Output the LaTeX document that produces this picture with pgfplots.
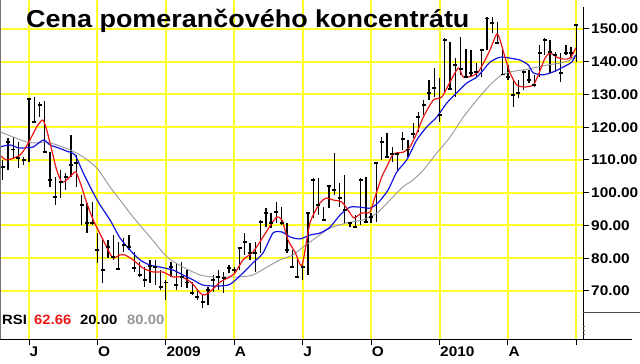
\documentclass[border=0pt]{standalone}
\usepackage{fontspec}
\setmainfont{Liberation Sans}[FakeStretch=1.1]
\usepackage{pgfplots}
\usepackage{pgfplotstable}
\pgfplotsset{compat=1.18}
\definecolor{gridyellow}{RGB}{255,255,40}
\definecolor{mared}{RGB}{235,20,20}
\definecolor{mablue}{RGB}{20,20,225}
\definecolor{magray}{RGB}{150,150,150}
\newcommand\tickfont{\fontsize{14bp}{16bp}\selectfont\bfseries}

\pgfplotstableread{
w H L C
-5 110.0 103.9 107.9
-4 116.7 106.9 115.5
-3 117.0 110.6 113.1
-2 115.5 107.6 110.6
-1 110.9 108.5 110.0
0 128.9 109.4 128.6
1 129.2 121.6 121.6
2 127.7 123.1 126.8
3 128.0 112.4 112.4
4 112.4 101.8 103.9
5 104.8 96.3 98.7
6 106.9 98.4 103.3
7 106.0 100.8 104.8
8 117.6 104.8 108.5
9 111.5 101.8 109.1
10 99.3 90.2 96.3
11 96.9 87.7 90.8
12 97.2 90.2 90.8
13 87.7 78.6 82.5
14 85.6 72.4 76.4
15 85.6 80.1 83.4
16 87.1 79.5 80.4
17 85.0 76.4 76.7
18 86.2 81.9 84.0
19 87.1 82.5 83.4
20 81.9 75.8 77.0
21 78.9 74.3 74.9
22 77.3 71.2 73.4
23 79.5 72.4 77.6
24 79.5 71.8 77.3
25 76.4 70.3 71.2
26 73.4 67.3 72.7
27 78.9 74.3 77.3
28 78.6 70.3 71.8
29 78.9 71.2 74.3
30 76.4 70.9 72.7
31 72.7 68.8 69.4
32 70.3 67.3 68.2
33 68.8 64.8 66.6
34 71.2 65.7 70.3
35 74.9 69.7 73.4
36 76.4 70.3 74.3
37 75.8 69.4 74.0
38 77.9 75.5 77.0
39 77.3 75.5 76.4
40 83.4 76.4 83.1
41 87.7 81.0 85.0
42 84.7 79.5 81.6
43 85.0 75.8 81.6
44 91.7 81.6 91.1
45 95.3 89.5 93.8
46 93.8 89.2 90.8
47 97.2 90.8 94.1
48 95.6 90.2 90.8
49 90.8 81.6 82.5
50 82.5 77.0 77.3
51 80.4 74.0 74.3
52 78.9 73.4 77.3
53 94.1 74.9 93.8
54 104.5 92.3 103.9
55 104.5 93.2 96.3
56 95.6 91.7 91.7
57 102.4 95.3 102.1
58 112.1 99.3 100.8
59 103.0 95.6 98.4
60 105.4 90.8 94.7
61 91.1 89.5 90.8
62 93.2 89.2 89.5
63 104.5 90.2 103.9
64 104.8 90.8 91.1
65 93.8 90.8 92.6
66 109.1 91.1 109.1
67 117.0 110.0 115.5
68 118.2 110.6 110.9
69 114.0 109.4 111.8
70 112.4 106.9 111.8
71 118.6 113.1 116.4
72 116.1 110.9 113.1
73 121.3 116.7 117.9
74 124.7 118.6 123.1
75 128.3 123.7 126.8
76 134.4 128.3 130.5
77 138.1 129.2 132.0
78 135.0 121.6 123.7
79 147.3 130.5 146.6
80 146.0 131.4 131.7
81 141.1 129.2 139.0
82 147.6 136.0 137.8
83 143.9 135.3 135.3
84 143.6 135.3 136.6
85 139.6 135.3 136.9
86 143.9 135.3 143.6
87 153.7 143.6 153.1
88 153.7 148.8 151.8
89 152.1 145.7 145.7
90 144.5 136.0 136.0
91 139.0 134.4 135.3
92 134.4 126.2 129.8
93 134.4 128.9 130.5
94 137.5 131.4 136.9
95 137.5 133.5 134.4
96 136.0 132.3 132.9
97 145.1 135.3 142.7
98 147.3 142.1 146.6
99 146.6 136.6 143.0
100 143.0 136.9 142.1
101 142.7 133.8 136.6
102 145.1 142.1 142.7
103 144.5 141.1 142.7
104 151.2 139.9 151.2
}\bars

\pgfplotstableread{
w p
-5.51 111.5
-4.24 110.0
-1.71 111.5
-0.13 115.2
1.46 120.1
2.60 122.2
3.36 119.2
4.31 113.1
5.26 106.9
6.21 103.3
7.16 103.9
8.11 105.4
8.93 106.3
10.0 101.8
10.96 96.9
12.2 91.7
12.86 89.5
14.76 83.4
15.96 80.1
17.29 81.0
18.24 81.0
19.76 79.5
21.66 77.0
23.56 75.8
25.46 75.8
27.36 74.3
29.07 74.3
30.97 72.4
32.49 69.4
33.44 68.8
34.77 70.3
36.29 72.7
37.81 74.0
39.14 75.5
40.66 79.5
42.56 81.9
44.46 86.5
46.17 90.8
47.12 92.6
48.07 91.7
49.21 85.6
50.54 81.9
51.87 77.9
53.39 90.8
55.29 96.9
56.56 98.4
57.76 97.8
59.41 97.2
60.61 94.7
61.75 92.3
63.21 93.8
64.79 94.1
65.74 98.7
67.01 104.8
67.97 107.9
69.22 111.8
71.12 112.4
72.39 114.0
73.67 118.2
74.92 123.1
76.82 128.3
78.42 129.2
80.0 133.8
81.57 138.1
82.52 135.3
84.12 135.6
85.37 136.9
86.64 140.5
87.59 143.6
88.87 148.5
89.49 146.6
90.44 141.4
91.39 136.6
92.67 132.9
94.24 132.3
95.82 132.9
96.77 136.0
98.04 141.1
99.0 142.7
100.27 141.4
101.52 140.8
102.80 141.1
103.88 144.2
}\redma

\pgfplotstableread{
w p
-5.51 114.0
-3.61 114.6
-2.03 113.7
-0.76 113.7
0.82 114.0
2.72 116.1
3.99 114.6
5.57 113.7
7.16 112.7
8.74 111.5
10.32 106.0
12.22 99.9
13.49 96.3
15.39 91.7
17.29 86.2
19.19 82.5
21.09 79.5
22.99 77.9
24.89 77.3
27.36 76.4
29.26 74.9
31.16 73.4
33.06 71.8
35.72 71.5
37.81 71.8
38.76 72.7
40.66 75.5
42.56 78.6
44.46 81.6
46.36 87.7
48.07 88.0
49.59 86.5
51.49 85.9
53.39 87.1
55.29 87.7
57.19 89.5
59.09 93.2
60.99 95.6
62.89 95.6
64.79 95.3
66.31 96.9
68.21 100.8
69.86 106.3
71.76 110.0
73.67 116.1
75.57 120.1
77.47 123.1
79.37 127.4
81.27 130.5
83.17 133.5
85.07 135.3
86.64 138.1
87.59 139.9
89.49 141.4
91.39 141.1
93.29 140.5
94.87 139.0
95.82 136.6
97.72 136.0
99.62 136.9
101.52 138.4
103.12 139.9
103.88 142.1
}\bluema

\pgfplotstableread{
w p
-5.51 118.6
-2.98 117.0
-0.44 115.5
1.46 115.2
3.36 115.5
5.26 114.6
7.79 113.1
10.32 110.9
12.86 107.6
15.39 101.8
17.29 97.8
19.76 92.6
22.99 86.5
26.22 80.4
29.26 77.3
32.49 74.9
34.96 74.3
37.62 74.3
40.09 74.3
42.56 74.9
45.22 77.3
47.69 79.5
50.16 81.0
52.06 83.4
54.72 86.5
57.19 89.2
60.42 90.8
63.46 91.7
66.12 93.8
68.59 97.8
71.06 101.8
72.96 103.9
74.92 106.9
77.47 112.1
80.0 117.0
82.52 123.1
85.07 128.3
87.59 132.9
89.49 135.6
91.39 136.9
93.92 137.5
95.82 138.1
98.36 139.0
100.89 139.6
102.80 140.5
103.88 142.1
}\grayma

\begin{document}
\begin{tikzpicture}
\begin{axis}[
  scale only axis, width=583bp, height=339bp,
  xmin=-5.51, xmax=105.26, ymin=55.34, ymax=158.85,
  axis x line*=bottom, axis y line*=right,
  axis line style={draw=none},
  xtick={0,13,26,39,52,65,78,91,104},
  xticklabels={J,O,2009,A,J,O,2010,A,{}},
  ytick={70,80,90,100,110,120,130,140,150},
  tick align=outside, major tick length=6bp,
  every tick/.style={black, line width=1bp},
  grid=major, major grid style={gridyellow, line width=2bp},
  tick label style={font=\tickfont},
  xticklabel style={anchor=north west, inner sep=0pt, yshift=-2bp, xshift=0.5bp},
  yticklabel style={anchor=west, inner sep=0pt, xshift=2bp},
  yticklabel={\pgfmathprintnumber[fixed,fixed zerofill,precision=2,assume math mode=true]{\tick}},
  /pgf/number format/assume math mode=true,
]
\addplot[only marks, mark=-, mark size=2bp, mark options={line width=1.3bp, black},
  error bars/.cd, y dir=both, y explicit, error mark=none,
  error bar style={line width=1.3bp, black}]
  table[x=w, y=C, y error plus expr=\thisrow{H}-\thisrow{C}, y error minus expr=\thisrow{C}-\thisrow{L}] {\bars};
\addplot[magray, line width=0.9bp, smooth, tension=0.4] table[x=w, y=p] {\grayma};
\addplot[mablue, line width=1.2bp, smooth, tension=0.4] table[x=w, y=p] {\bluema};
\addplot[mared, line width=1.2bp, smooth, tension=0.4] table[x=w, y=p] {\redma};
\coordinate (TL) at (rel axis cs:0,1);
\end{axis}
\pgfresetboundingbox
\begin{scope}[shift={(TL)}, x=1bp, y=-1bp]
  \path[use as bounding box] (0,0) rectangle (640,363);
  \draw[black, line width=1bp] (583,7) -- (583,339);
  \draw[black, line width=1bp] (0,339) -- (632,339);
  \draw[black!70, line width=1bp] (583,312) -- (640,312);
  \draw[black!55, line width=1bp] (0.5,0) -- (0.5,339);
  \draw[black!60, line width=0.6bp] (583,326) -- (585,326) (583,330) -- (585,330) (583,334) -- (585,334);
  \node[anchor=base west, inner sep=0pt, font=\fontsize{24.5bp}{28bp}\selectfont\bfseries] at (26,27.7) {Cena pomerančového koncentrátu};
  \node[anchor=base west, inner sep=0pt, font=\fontsize{13.5bp}{15bp}\selectfont\bfseries] at (2,324.5) {RSI};
  \node[anchor=base west, inner sep=0pt, font=\fontsize{13.5bp}{15bp}\selectfont\bfseries, text=mared] at (34,324.5) {62.66};
  \node[anchor=base west, inner sep=0pt, font=\fontsize{13.5bp}{15bp}\selectfont\bfseries] at (80,324.5) {20.00};
  \node[anchor=base west, inner sep=0pt, font=\fontsize{13.5bp}{15bp}\selectfont\bfseries, text=magray] at (127,324.5) {80.00};
\end{scope}
\end{tikzpicture}
\end{document}
